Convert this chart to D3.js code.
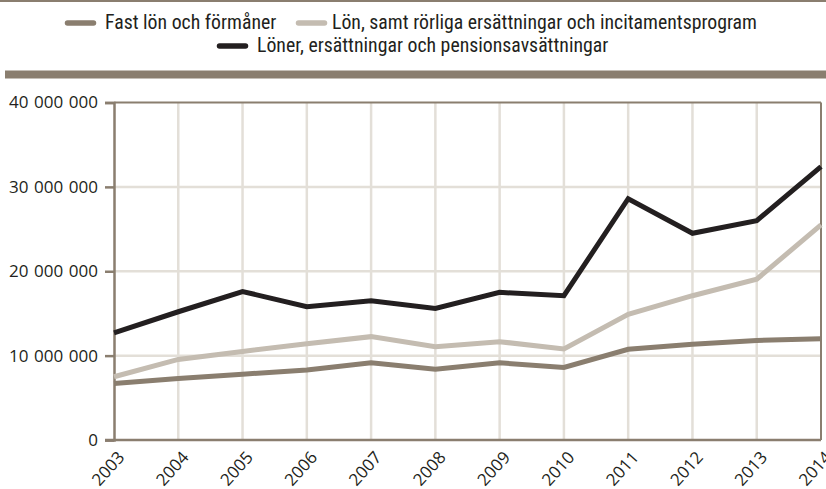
<!DOCTYPE html>
<html><head><meta charset="utf-8">
<script src="https://cdn.jsdelivr.net/npm/d3@7"></script>
<style>body{margin:0;background:#fff}svg{display:block}</style>
</head><body>
<svg id="c" width="826" height="489"></svg>
<script>
const years = ["2003","2004","2005","2006","2007","2008","2009","2010","2011","2012","2013","2014"];
const seriesNames = ["Fast lön och förmåner","Lön, samt rörliga ersättningar och incitamentsprogram","Löner, ersättningar och pensionsavsättningar"];
const fastLon = [6700000,7300000,7800000,8300000,9150000,8400000,9150000,8600000,10750000,11350000,11800000,12000000];
const rorliga = [7500000,9550000,10500000,11400000,12250000,11050000,11650000,10800000,14900000,17100000,19050000,25500000];
const pension = [12700000,15200000,17600000,15800000,16500000,15600000,17500000,17100000,28600000,24500000,26000000,32400000];
const yTicks = [0,10000000,20000000,30000000,40000000];
const colors = ["#8a7e6f","#c4bcb1","#231f20"];

const svg = d3.select("#c");
const x = d3.scalePoint().domain(years).range([114,821]);
const y = d3.scaleLinear().domain([0,40000000]).range([440,102.5]);
const axisCol = "#8a7e6f", gridCol = "#e3dfd8";
const font = "'Liberation Sans Narrow','Roboto Condensed','Open Sans',sans-serif";
const tickFont = "'Open Sans',sans-serif";

// top bands
svg.append("rect").attr("x",0).attr("y",0).attr("width",826).attr("height",2).attr("fill",axisCol);
svg.append("rect").attr("x",5).attr("y",70.5).attr("width",821).attr("height",8).attr("fill",axisCol);

// grid
svg.append("g").selectAll("line").data(years.slice(1,-1)).join("line")
  .attr("x1",d=>x(d)).attr("x2",d=>x(d)).attr("y1",y(40000000)).attr("y2",y(0))
  .attr("stroke",gridCol).attr("stroke-width",2.5);
svg.append("g").selectAll("line").data(yTicks.slice(1,-1)).join("line")
  .attr("x1",114).attr("x2",821).attr("y1",d=>y(d)).attr("y2",d=>y(d))
  .attr("stroke",gridCol).attr("stroke-width",2.5);

// frame
svg.append("line").attr("x1",114).attr("x2",821).attr("y1",y(40000000)).attr("y2",y(40000000)).attr("stroke",axisCol).attr("stroke-width",2);
svg.append("line").attr("x1",821).attr("x2",821).attr("y1",y(40000000)).attr("y2",y(0)).attr("stroke",axisCol).attr("stroke-width",2);

// y axis
const fmt = v => d3.format(",")(v).replace(/,/g,"\u2004");
const ya = svg.append("g").attr("transform","translate(114,0)")
  .call(d3.axisLeft(y).tickValues(yTicks).tickSize(9).tickPadding(7).tickFormat(fmt));
ya.select(".domain").attr("stroke",axisCol).attr("stroke-width",2.5);
ya.selectAll(".tick line").attr("stroke",axisCol).attr("stroke-width",2.5);
ya.selectAll("text").attr("font-family",tickFont).attr("font-size",17).attr("fill","#231f20");

// x axis
const xa = svg.append("g").attr("transform","translate(0,440)")
  .call(d3.axisBottom(x).tickSize(0).tickPadding(0));
xa.select(".domain").attr("stroke",axisCol).attr("stroke-width",2.5).attr("d","M105,0H821");
xa.selectAll(".tick text").attr("font-family",tickFont).attr("font-size",17).attr("fill","#231f20")
  .attr("text-anchor","end").attr("y",0).attr("dy",0).attr("transform","translate(11,18) rotate(-48)");

// lines
const data = [fastLon, rorliga, pension];
const line = d3.line().x((d,i)=>x(years[i])).y(d=>y(d));
svg.append("g").selectAll("path").data(data).join("path")
  .attr("d",line).attr("fill","none").attr("stroke",(d,i)=>colors[i]).attr("stroke-width",5).attr("stroke-linejoin","miter");

// legend
const leg = [
  {i:0, sx:65, tx:105, ty:22.5},
  {i:1, sx:296, tx:332, ty:22.5},
  {i:2, sx:217, tx:257, ty:45.5}
];
const lg = svg.append("g");
leg.forEach(l=>{
  lg.append("line").attr("x1",l.sx+2.5).attr("x2",l.sx+28.5).attr("y1",l.ty+0.5).attr("y2",l.ty+0.5)
    .attr("stroke",colors[l.i]).attr("stroke-width",5.5).attr("stroke-linecap","round");
  lg.append("text").attr("x",l.tx).attr("y",l.ty).attr("dy","0.35em")
    .attr("font-family",font).attr("font-size",19.8).attr("fill","#231f20").text(seriesNames[l.i]);
});
</script>
</body></html>
